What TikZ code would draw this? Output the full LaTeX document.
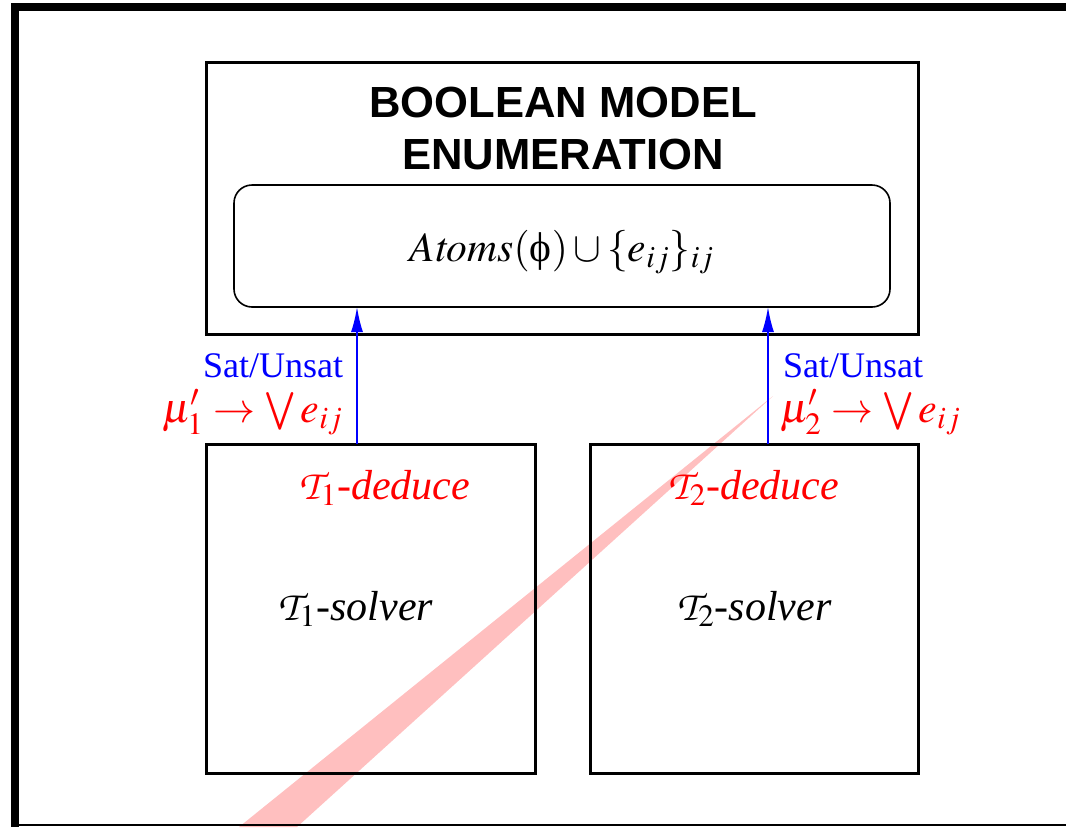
\documentclass[tikz,border=0pt]{standalone}
\usepackage{mathptmx}
\DeclareMathAlphabet{\mathcal}{OT1}{pzc}{m}{it}
\usepackage{fontspec}
\setmainfont{Liberation Serif}
\setsansfont{Liberation Sans}
\usetikzlibrary{arrows.meta,positioning}

\begin{document}
\begin{tikzpicture}[
    x=0.5pt, y=-0.5pt,
    >={Latex[length=12.5pt,width=6pt]},
    every node/.style={inner sep=0pt, outer sep=0pt},
    bigbox/.style={
        draw, line width=1.5pt
    },
    atombox/.style={
        draw, line width=0.8pt, rounded corners=9pt,
        minimum width=328pt, minimum height=61pt
    },
    solverbox/.style={
        draw, line width=1.5pt,
        minimum width=164.5pt, minimum height=164.5pt
    },
    titletext/.style={font=\sffamily\bfseries\fontsize{21.8}{26}\selectfont, align=center},
    mathtext/.style={font=\fontsize{20.8}{24}\selectfont},
    solvetext/.style={font=\fontsize{21}{24}\selectfont},
    satlbl/.style={font=\fontsize{18}{22}\selectfont, text=blue},
    mulbl/.style={font=\fontsize{21}{24}\selectfont, text=red},
    satarrow/.style={->, draw=blue, line width=0.8pt}
]
\useasboundingbox (0,0) rectangle (1066,827);

% ----------------------------------------------------------
% Pen stroke across the slide (behind everything)
% ----------------------------------------------------------
\fill[red!25] (773,396) -- (239,827) -- (297,827) -- cycle;

% ----------------------------------------------------------
% Slide frame
% ----------------------------------------------------------
\draw[line width=4pt] (1066,7) -- (15,7) -- (15,827);
\draw[line width=1pt] (15,825) -- (1066,825);

% ----------------------------------------------------------
% Upper box: Boolean model enumeration
% ----------------------------------------------------------
\node[bigbox, minimum width=356pt, minimum height=136pt] (bme) at (562,198) {};
\node[titletext] (title) at (563,128) {BOOLEAN MODEL\\ENUMERATION};
\node[atombox] (atoms) at (562,246) {};
\node[mathtext] (atomtxt) at (562,252) {$\mathit{Atoms}(\mbox{ϕ})\cup\{e_{ij}\}_{ij}$};

% ----------------------------------------------------------
% Lower boxes: the two theory solvers
% ----------------------------------------------------------
\node[solverbox] (solverA) at (370.5,608.5) {};
\node[solverbox, minimum width=164pt] (solverB) at (754,608.5) {};

\node[solvetext, text=red] (dedA) at (385,488) {$\mathcal{T}_1$\textit{-deduce}};
\node[solvetext, text=red] (dedB) at (754,488) {$\mathcal{T}_2$\textit{-deduce}};
\node[solvetext] (solA) at (356,609) {$\mathcal{T}_1$\textit{-solver}};
\node[solvetext] (solB) at (754.5,609) {$\mathcal{T}_2$\textit{-solver}};

% ----------------------------------------------------------
% Connections solver -> enumerator
% ----------------------------------------------------------
\coordinate (portA) at (357,400);
\coordinate (portB) at (768,400);
\draw[satarrow] (solverA.north -| portA) -- (atoms.south -| portA);
\draw[satarrow] (solverB.north -| portB) -- (atoms.south -| portB);

\node[satlbl, anchor=base east] (satA) at (343,377) {Sat/Unsat};
\node[mulbl, anchor=base east] (muA) at (343,422) {$\mu'_1\rightarrow\bigvee e_{ij}$};
\node[satlbl, anchor=base west] (satB) at (783,377) {Sat/Unsat};
\node[mulbl, anchor=base west] (muB) at (780,422) {$\mu'_2\rightarrow\bigvee e_{ij}$};

\end{tikzpicture}
\end{document}
